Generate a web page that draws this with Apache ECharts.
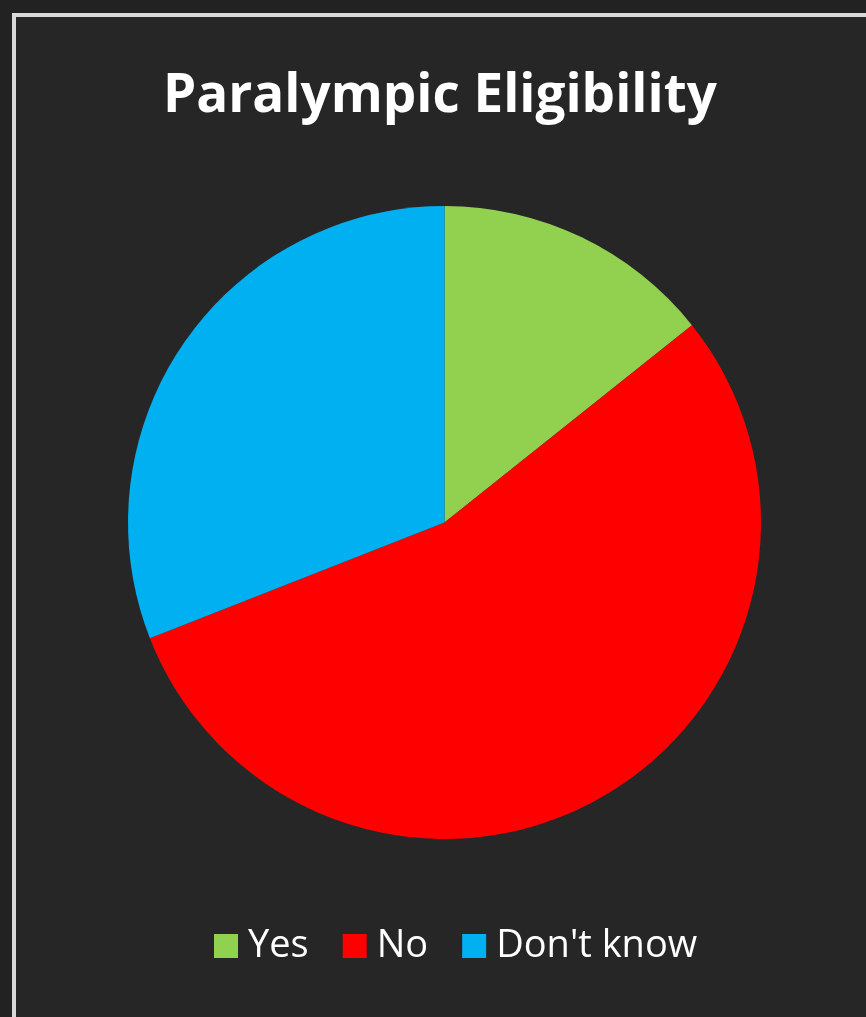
<!DOCTYPE html>
<html>
<head>
<meta charset="utf-8">
<script src="https://cdn.jsdelivr.net/npm/echarts@6/dist/echarts.min.js"></script>
<style>
  html, body { margin: 0; padding: 0; background: #222222; width: 866px; height: 1017px; overflow: hidden; }
  #frame { position: absolute; left: 12px; top: 13px; width: 900px; height: 1100px; background: #262626; border: 4px solid #d9d9d9; box-sizing: border-box; }
  #chart { position: absolute; left: 0; top: 0; width: 866px; height: 1017px; }
</style>
</head>
<body>
<div id="frame"></div>
<div id="chart"></div>
<script>
const titleText = 'Paralympic Eligibility';
const categories = ['Yes', 'No', "Don't know"];
const values = [6, 23, 13];
const colors = ['#92D050', '#FF0000', '#00B0F0'];

const chart = echarts.init(document.getElementById('chart'), null, { renderer: 'canvas' });
chart.setOption({
  backgroundColor: 'transparent',
  animation: false,
  title: {
    text: titleText,
    left: 163,
    top: 70,
    padding: 0,
    textStyle: { color: '#ffffff', fontFamily: 'Open Sans', fontWeight: 'bold', fontSize: 53 }
  },
  legend: {
    data: categories,
    left: 214,
    top: 927,
    padding: 0,
    icon: 'rect',
    itemWidth: 24,
    itemHeight: 24,
    itemGap: 34,
    textStyle: { color: '#ffffff', fontFamily: 'Open Sans', fontSize: 38, padding: [0, 0, 0, 5] }
  },
  series: [{
    type: 'pie',
    center: [444.5, 522.5],
    radius: 316.5,
    startAngle: 90,
    clockwise: true,
    label: { show: false },
    labelLine: { show: false },
    emphasis: { disabled: true },
    itemStyle: { borderWidth: 0 },
    data: categories.map((c, i) => ({ name: c, value: values[i], itemStyle: { color: colors[i] } }))
  }]
});
</script>
</body>
</html>
